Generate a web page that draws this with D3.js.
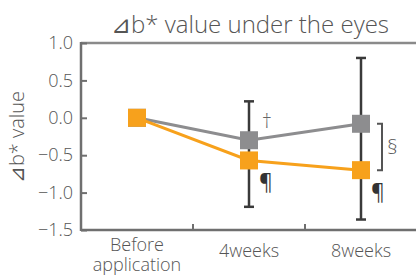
<!DOCTYPE html>
<html>
<head>
<meta charset="utf-8">
<script src="https://cdn.jsdelivr.net/npm/d3@7"></script>
<style>
  body { margin: 0; background: #fff; }
  svg { display: block; font-family: "Open Sans", "Noto Sans", sans-serif; font-weight: 300; }
</style>
</head>
<body>
<svg id="canvas" width="416" height="275"></svg>
<script>
// data
const categories = ["Before application", "4weeks", "8weeks"]
const grayValues = [0, -0.30, -0.08]
const orangeValues = [0, -0.57, -0.70]
const errTop = [null, 0.22, 0.80]
const errBottom = [null, -1.19, -1.36]
const yTicks = [1.0, 0.5, 0.0, -0.5, -1.0, -1.5]

const canvas = d3.select("#canvas")
const plotLeft = 81, plotRight = 417, plotTop = 43, plotBottom = 230

const x = d3.scaleBand().domain(categories).range([plotLeft, plotRight])
const y = d3.scaleLinear().domain([-1.5, 1.0]).range([plotBottom, plotTop])
const cx = (c) => x(c) + x.bandwidth() / 2

const axisColor = "#6f6f6f"
const textColor = "#555"

// frame top line
canvas.append("line")
  .attr("x1", plotLeft).attr("x2", plotRight)
  .attr("y1", plotTop).attr("y2", plotTop)
  .attr("stroke", "#8a8a8a").attr("stroke-width", 2.5)

// y axis
const yAxis = canvas.append("g")
  .attr("transform", `translate(${plotLeft},0)`)
  .call(d3.axisRight(y).tickValues(yTicks).tickSize(6).tickFormat(d3.format(".1f")))
yAxis.select(".domain").remove()
yAxis.selectAll(".tick line").attr("stroke", axisColor).attr("stroke-width", 2)
yAxis.selectAll(".tick text")
  .attr("x", -8).attr("text-anchor", "end")
  .attr("fill", textColor).style("font-size", "18px")
yAxis.attr("font-family", null).attr("font-size", null)
canvas.append("line")
  .attr("x1", plotLeft).attr("x2", plotLeft).attr("y1", plotTop - 1).attr("y2", plotBottom + 1)
  .attr("stroke", axisColor).attr("stroke-width", 2.5)

// x axis with ticks between bands
canvas.append("line")
  .attr("x1", plotLeft).attr("x2", plotRight).attr("y1", plotBottom).attr("y2", plotBottom)
  .attr("stroke", axisColor).attr("stroke-width", 2.5)
canvas.selectAll(".xtick")
  .data(categories.slice(1))
  .enter()
  .append("line")
  .attr("x1", (c) => x(c)).attr("x2", (c) => x(c))
  .attr("y1", plotBottom).attr("y2", plotBottom - 6)
  .attr("stroke", axisColor).attr("stroke-width", 2)

canvas.selectAll(".xlab")
  .data(categories)
  .enter()
  .append("text")
  .attr("text-anchor", "middle")
  .attr("fill", textColor)
  .style("font-size", "18px")
  .each(function (c) {
    const words = c.split(" ")
    const t = d3.select(this)
    if (words.length > 1) {
      words.forEach((w, i) => {
        t.append("tspan").attr("x", cx(c)).attr("y", 251 + i * 20).text(w)
      })
    } else {
      t.append("tspan").attr("x", cx(c)).attr("y", 257).text(c)
    }
  })

// error bars
const errData = categories.map((c, i) => ({ c, hi: errTop[i], lo: errBottom[i] })).filter((d) => d.hi !== null)
const eb = canvas.selectAll(".err").data(errData).enter().append("g").attr("stroke", "#3a3a3a").attr("stroke-width", 2.5)
eb.append("line").attr("x1", (d) => cx(d.c)).attr("x2", (d) => cx(d.c)).attr("y1", (d) => y(d.hi)).attr("y2", (d) => y(d.lo))
eb.append("line").attr("x1", (d) => cx(d.c) - 5).attr("x2", (d) => cx(d.c) + 5).attr("y1", (d) => y(d.hi)).attr("y2", (d) => y(d.hi))
eb.append("line").attr("x1", (d) => cx(d.c) - 5).attr("x2", (d) => cx(d.c) + 5).attr("y1", (d) => y(d.lo)).attr("y2", (d) => y(d.lo))

// series
const series = [
  { name: "gray", values: grayValues, color: "#8d8d8f" },
  { name: "orange", values: orangeValues, color: "#f7a11c" }
]
const line = d3.line().x((d) => cx(d.c)).y((d) => y(d.v))
series.forEach((s) => {
  const pts = categories.map((c, i) => ({ c, v: s.values[i] }))
  canvas.append("path")
    .datum(pts)
    .attr("d", line)
    .attr("fill", "none")
    .attr("stroke", s.color)
    .attr("stroke-width", 3)
})
series.forEach((s) => {
  const pts = categories.map((c, i) => ({ c, v: s.values[i] }))
  canvas.selectAll(".m-" + s.name)
    .data(pts)
    .enter()
    .append("rect")
    .attr("x", (d) => cx(d.c) - 9)
    .attr("y", (d) => y(d.v) - 9)
    .attr("width", 18).attr("height", 18)
    .attr("fill", s.color)
})

// significance marks
const bx = cx("8weeks") + 16
canvas.append("path")
  .attr("d", `M${bx},${y(grayValues[2])}H${bx + 5}V${y(orangeValues[2])}H${bx}`)
  .attr("fill", "none").attr("stroke", "#555").attr("stroke-width", 2)
canvas.append("text").attr("x", bx + 10).attr("y", (y(grayValues[2]) + y(orangeValues[2])) / 2 + 7)
  .attr("fill", textColor).style("font-size", "21px").text("§")
canvas.append("text").attr("x", cx("4weeks") + 13).attr("y", y(grayValues[1]) - 12)
  .attr("fill", "#666").style("font-size", "20px").text("†")
canvas.append("text").attr("x", cx("4weeks") + 10).attr("y", y(orangeValues[1]) + 29)
  .attr("fill", "#333").style("font-size", "21px").style("font-weight", 400).text("¶")
canvas.append("text").attr("x", cx("8weeks") + 10).attr("y", y(orangeValues[2]) + 29)
  .attr("fill", "#333").style("font-size", "21px").style("font-weight", 400).text("¶")

// titles
canvas.append("text")
  .attr("x", 250).attr("y", 33)
  .attr("text-anchor", "middle")
  .attr("fill", textColor)
  .style("font-size", "24px")
  .text("⊿b* value under the eyes")
canvas.append("text")
  .attr("transform", "translate(24,137) rotate(-90)")
  .attr("text-anchor", "middle")
  .attr("fill", textColor)
  .style("font-size", "20px")
  .text("⊿b* value")
</script>
</body>
</html>
